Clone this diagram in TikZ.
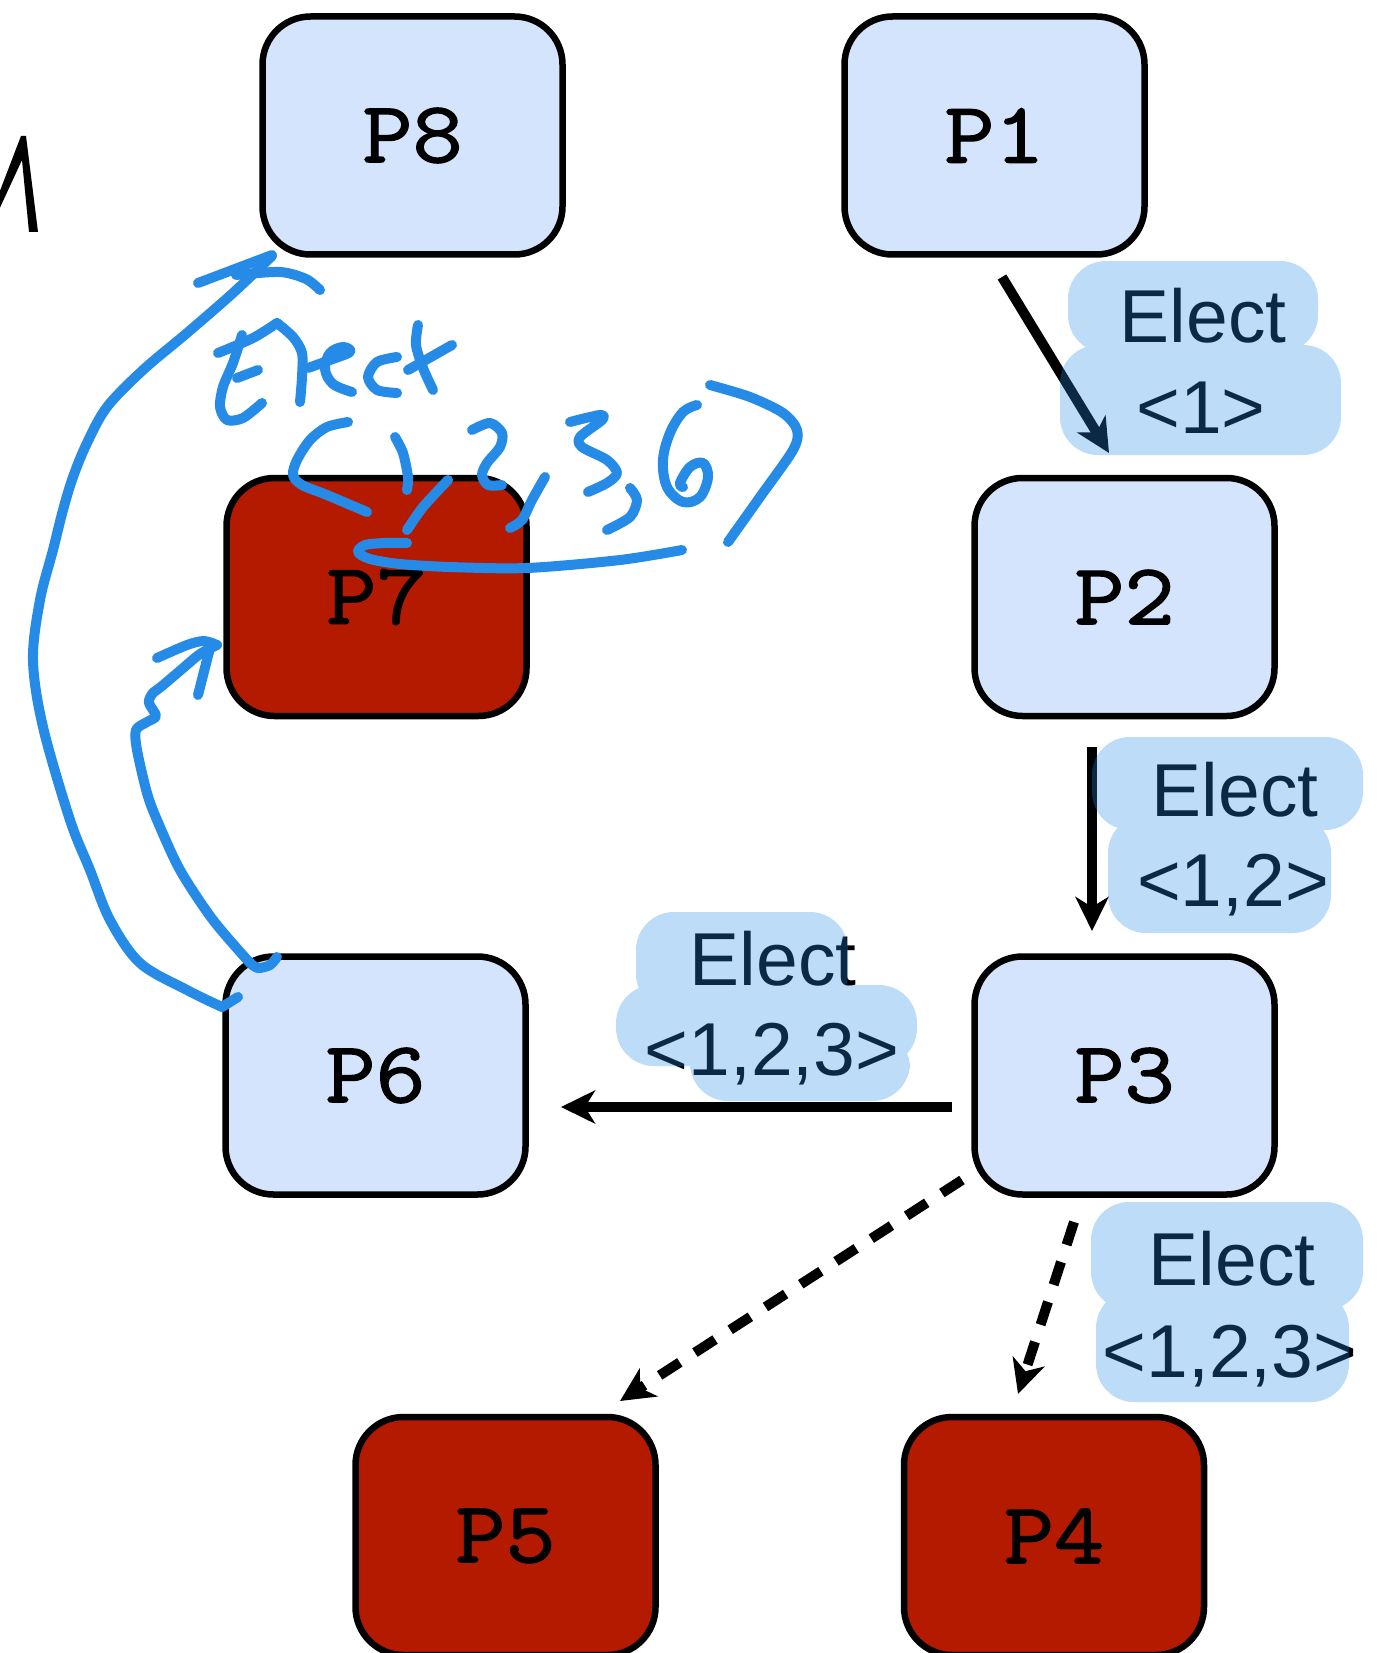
\documentclass[tikz,border=0pt]{standalone}
\usepackage{fontspec}
\setmainfont{Liberation Sans}
\newfontfamily\boxfont{Latin Modern Mono}[FakeStretch=1.12, FakeBold=1.6]
\usetikzlibrary{arrows.meta}
\definecolor{procblue}{HTML}{D4E4FC}
\definecolor{procred}{HTML}{B31A00}
\definecolor{pen}{RGB}{38,139,230}

\begin{document}
\begin{tikzpicture}[x=1pt,y=-1pt,
  proc/.style={draw=black, line width=6.5pt, rounded corners=48pt,
    minimum width=300pt, minimum height=238pt, inner sep=0pt,
    font=\boxfont\fontsize{87}{87}\selectfont},
  alive/.style={proc, fill=procblue},
  dead/.style={proc, fill=procred},
  msg/.style={line width=10pt, -{Stealth[length=34pt,width=33pt,inset=10pt]}},
  lost/.style={msg, dash pattern=on 24pt off 18pt},
  lbl/.style={font=\fontsize{75}{75}\selectfont, anchor=base, inner sep=0pt},
  hl/.style={fill=pen, opacity=0.3, rounded corners=38pt},
  ink/.style={draw=pen, line width=10pt, line cap=round, line join=round}]

\useasboundingbox (0,0) rectangle (1385,1653);

% processes of the ring
\node[alive] (P8) at (412.5,135.5) {P8};
\node[alive] (P1) at (994.5,135.5) {P1};
\node[dead]  (P7) at (376.5,597)   {P7};
\node[alive] (P2) at (1124.5,597)  {P2};
\node[alive] (P6) at (375.5,1075.5) {P6};
\node[alive] (P3) at (1124.5,1075.5) {P3};
\node[dead]  (P5) at (505.5,1536)  {P5};
\node[dead]  (P4) at (1054,1536)   {P4};

% message end points
\coordinate (m1s) at (1002,277);  \coordinate (m1e) at (1109,453);
\coordinate (m2s) at (1092,747);  \coordinate (m2e) at (1092,931);
\coordinate (m3s) at (952,1107);  \coordinate (m3e) at (561,1107);
\coordinate (m4s) at (962,1180);  \coordinate (m4e) at (620,1401);
\coordinate (m5s) at (1074,1222); \coordinate (m5e) at (1018,1394);

\draw[msg]  (m1s) -- (m1e);
\draw[msg]  (m2s) -- (m2e);
\draw[msg]  (m3s) -- (m3e);
\draw[lost] (m4s) -- (m4e);
\draw[lost] (m5s) -- (m5e);

% election messages
\node[lbl] (e1a) at (1203,342)  {Elect};
\node[lbl] (e1b) at (1201,433)  {<1>};
\node[lbl] (e2a) at (1235,816)  {Elect};
\node[lbl] (e2b) at (1233,906)  {<1,2>};
\node[lbl] (e3a) at (773,985)   {Elect};
\node[lbl] (e3b) at (772,1075)  {<1,2,3>};
\node[lbl] (e4a) at (1232,1285) {Elect};
\node[lbl] (e4b) at (1230,1377) {<1,2,3>};

% highlighter marks
\fill[hl] (1068,261) rectangle (1318,353) (1060,345) rectangle (1341,455);
\fill[hl] (1092,737) rectangle (1363,830) (1108,815) rectangle (1331,933);
\fill[hl] (636,912) rectangle (848,1012) (616,985) rectangle (917,1066)
          (690,1030) rectangle (910,1101);
\fill[hl] (1091,1202) rectangle (1363,1310) (1096,1290) rectangle (1349,1402);

% stray pen mark at the left edge
\fill[black] (-2,196) -- (21,136) -- (26,136) -- (38,232) -- (29,232)
             -- (22,160) -- (-2,212) -- cycle;

% hand-drawn message P6 -> P8
\draw[ink] (238,997) -- (222,1007);
\draw[ink] plot[smooth, tension=0.55] coordinates {(222,1007) (187,990) (140,963)
  (110,920) (90,870) (70,820) (43,727) (33,660) (40,600) (53,550) (63,510)
  (73,477) (87,443) (107,407) (143,370) (187,333) (233,293) (272,256)};
\draw[ink] (198,283) -- (272,255);
\draw[ink] plot[smooth] coordinates {(236,275) (280,272) (306,279) (320,290)};

% hand-drawn message P6 -> P7
\draw[ink] plot[smooth] coordinates {(250,963) (258,968) (270,965) (277,957)};
\draw[ink] plot[smooth, tension=0.5] coordinates {(250,963) (213,920) (180,870)
  (157,820) (147,793) (137,750) (136,730) (147,722) (156,716) (149,703)
  (152,694) (162,686) (182,669) (200,654) (217,645)};
\draw[ink] plot[smooth] coordinates {(157,658) (187,645) (204,641) (217,645)};
\draw[ink] (210,648) -- (198,695);

% hand-written "Elect <1,2,3,6>"
\draw[ink] plot[smooth] coordinates {(218,353) (253,338) (277,323)};
\draw[ink] plot[smooth, tension=0.5] coordinates {(242,335) (233,363) (223,387)
  (220,407) (227,420) (243,418) (262,403)};
\draw[ink] (237,378) -- (258,370);
\draw[ink] plot[smooth] coordinates {(277,323) (293,337) (302,353) (302,377) (300,402)};
\draw[ink] plot[smooth, tension=0.6] coordinates {(308,368) (330,360) (350,352)
  (343,347) (330,353) (325,369) (333,384) (352,392)};
\draw[ink] plot[smooth] coordinates {(397,357) (377,362) (368,377) (377,390) (397,393)};
\draw[ink] plot[smooth] coordinates {(418,325) (416,345) (423,368) (433,390)};
\draw[ink] (408,370) -- (452,345);
\draw[ink] plot[smooth] coordinates {(348,422) (327,427) (310,440) (297,460)
  (293,475) (302,485) (327,495) (367,512)};
\draw[ink] plot[smooth] coordinates {(395,437) (403,453) (408,477) (407,490)};
\draw[ink] plot[smooth] coordinates {(448,480) (423,507) (407,530)};
\draw[ink] plot[smooth] coordinates {(472,430) (490,423) (502,433) (500,447)
  (487,463) (482,475) (488,485) (502,485)};
\draw[ink] plot[smooth] coordinates {(545,477) (532,500) (522,520) (510,528)};
\draw[ink] plot[smooth, tension=0.5] coordinates {(570,422) (600,415) (602,420)
  (580,437) (582,447) (607,460) (617,473) (607,483) (588,492)};
\draw[ink] plot[smooth] coordinates {(630,488) (637,500) (630,517) (607,530)};
\draw[ink] plot[smooth, tension=0.6] coordinates {(697,405) (683,412) (670,433)
  (663,460) (667,487) (683,502) (700,497) (708,477) (703,463) (690,467)
  (680,483) (683,487)};
\draw[ink] plot[smooth, tension=0.5] coordinates {(710,385) (750,397) (783,413)
  (797,430) (793,450) (760,497) (728,542)};
\draw[ink] plot[smooth, tension=0.5] coordinates {(682,550) (620,560) (527,568)
  (450,567) (400,564) (370,559) (358,552) (365,545) (385,543) (407,543)};
\end{tikzpicture}
\end{document}
